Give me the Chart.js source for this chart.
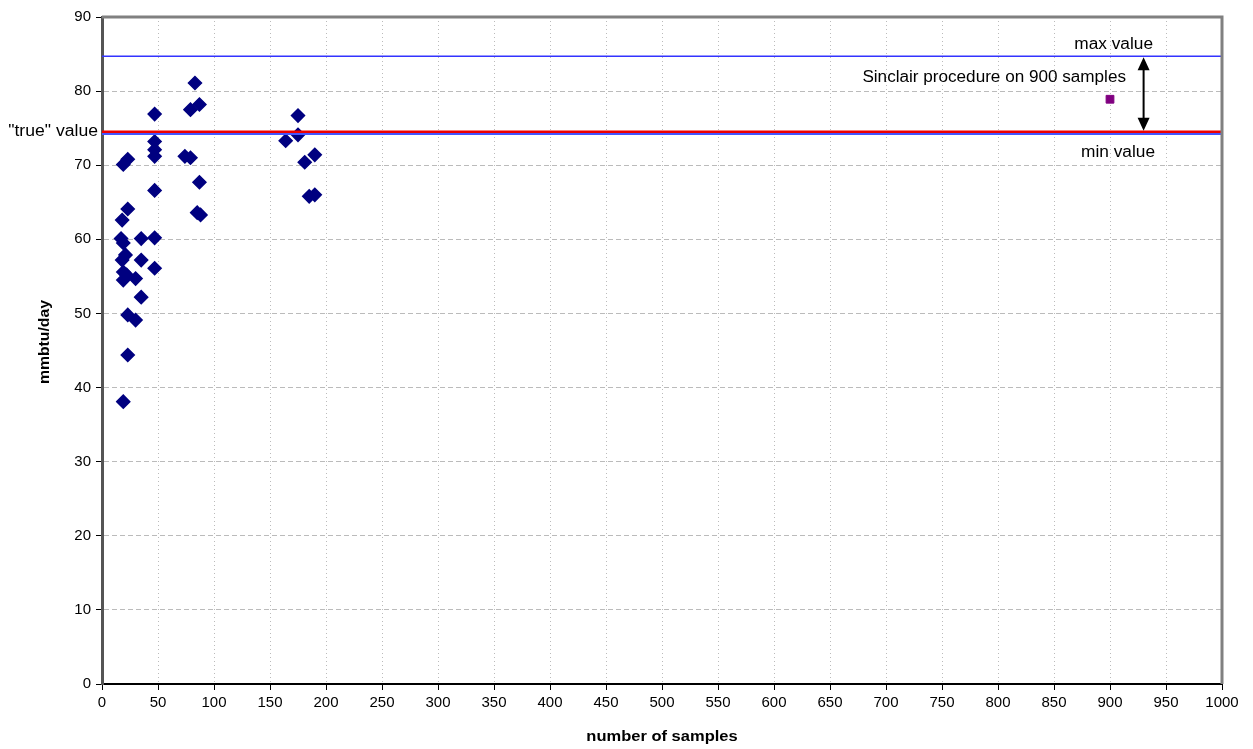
<!DOCTYPE html>
<html>
<head>
<meta charset="utf-8">
<script src="https://cdn.jsdelivr.net/npm/chart.js@4"></script>
<style>
  html, body { margin: 0; padding: 0; background: #fff; }
  #wrap { width: 1253px; height: 749px; }
</style>
</head>
<body>
<div id="wrap"><canvas id="chartScatter" width="1253" height="749"></canvas></div>
<script>
// samples vs mmbtu/day estimates
const sampleCounts = [
  87, 79, 47, 47, 47, 47, 19, 23, 74, 79, 87, 47, 23, 18, 85, 88,
  17, 19, 35, 47, 21, 18, 35, 47, 19, 22, 19, 30, 35, 23, 30, 23, 19,
  83, 175, 175, 164, 190, 181, 185, 190
];
const estimates = [
  78.2, 77.5, 76.9, 73.2, 72.1, 71.2, 70.1, 70.8, 71.2, 71.0, 67.7, 66.6, 64.1, 62.6, 63.6, 63.3,
  60.1, 59.5, 60.1, 60.2, 57.9, 57.2, 57.2, 56.1, 55.6, 55.2, 54.5, 54.7, 52.2, 49.8, 49.1, 44.4, 38.1,
  81.1, 76.7, 74.1, 73.3, 71.4, 70.4, 65.8, 66.0
];
const sinclairX = [900];
const sinclairY = [78.9];
const maxValue = 84.7;
const trueValue = 74.5;
const minValue = 74.2;
const xTicks = [0, 50, 100, 150, 200, 250, 300, 350, 400, 450, 500, 550, 600, 650, 700, 750, 800, 850, 900, 950, 1000];
const yTicks = [0, 10, 20, 30, 40, 50, 60, 70, 80, 90];

const FONT = "'Liberation Sans', Arial, sans-serif";

const hline = (v, color, width) => ({
  type: "line",
  data: [{ x: 0, y: v }, { x: 1000, y: v }],
  borderColor: color,
  borderWidth: width,
  pointRadius: 0,
  showLine: true,
  fill: false,
});

// the original text runs a little wide
function wideText(ctx, text, x, y, align, sx) {
  ctx.save();
  ctx.translate(x, y);
  ctx.scale(sx, 1);
  ctx.textAlign = align;
  ctx.fillText(text, 0, 0);
  ctx.restore();
}

const annotations = {
  id: "annotations",
  afterDraw(chart) {
    const { ctx, chartArea, scales } = chart;
    const x = scales.x, y = scales.y;
    ctx.save();
    // plot frame top / right
    ctx.strokeStyle = "#808080";
    ctx.lineWidth = 3;
    ctx.beginPath();
    ctx.moveTo(chartArea.left, chartArea.top);
    ctx.lineTo(chartArea.right, chartArea.top);
    ctx.lineTo(chartArea.right, chartArea.bottom);
    ctx.stroke();

    ctx.fillStyle = "#000";
    ctx.font = "16px " + FONT;
    ctx.textBaseline = "middle";
    wideText(ctx, '"true" value', chartArea.left - 4, y.getPixelForValue(trueValue), "right", 1.1);
    wideText(ctx, "max value", 1153, 45, "right", 1.08);
    wideText(ctx, "Sinclair procedure on 900 samples", 1126, 78, "right", 1.07);
    wideText(ctx, "min value", 1155, 153, "right", 1.08);

    // axis titles
    ctx.font = "bold 15px " + FONT;
    wideText(ctx, "number of samples", (chartArea.left + chartArea.right) / 2, 737, "center", 1.1);
    ctx.save();
    ctx.translate(45, 342);
    ctx.rotate(-Math.PI / 2);
    wideText(ctx, "mmbtu/day", 0, 0, "center", 1.05);
    ctx.restore();

    // double arrow
    const ax = x.getPixelForValue(930);
    const y1 = y.getPixelForValue(maxValue) + 1;
    const y2 = y.getPixelForValue(trueValue) - 1;
    ctx.strokeStyle = "#000";
    ctx.lineWidth = 2;
    ctx.beginPath();
    ctx.moveTo(ax, y1 + 8);
    ctx.lineTo(ax, y2 - 8);
    ctx.stroke();
    ctx.beginPath();
    ctx.moveTo(ax, y1); ctx.lineTo(ax - 6, y1 + 13); ctx.lineTo(ax + 6, y1 + 13); ctx.closePath();
    ctx.moveTo(ax, y2); ctx.lineTo(ax - 6, y2 - 13); ctx.lineTo(ax + 6, y2 - 13); ctx.closePath();
    ctx.fill();
    ctx.restore();
  },
};

const ctx = document.getElementById("chartScatter").getContext("2d");
new Chart(ctx, {
  type: "scatter",
  data: {
    datasets: [
      hline(maxValue, "#3333ff", 1.5),
      hline(minValue, "#4455ff", 2),
      hline(trueValue, "#ee0000", 2.5),
      {
        label: "estimates",
        data: sampleCounts.map((v, i) => ({ x: v, y: estimates[i] })),
        pointStyle: "rectRot",
        pointRadius: 6.5,
        backgroundColor: "#000080",
        borderColor: "#000080",
        borderWidth: 1.5,
      },
      {
        label: "Sinclair",
        data: sinclairX.map((v, i) => ({ x: v, y: sinclairY[i] })),
        pointStyle: "rect",
        pointRadius: 5.5,
        backgroundColor: "#800080",
        borderColor: "#800080",
        borderWidth: 1,
      },
    ],
  },
  options: {
    responsive: false,
    animation: false,
    layout: { padding: { top: 17, right: 31, left: 0, bottom: 0 } },
    plugins: { legend: { display: false }, tooltip: { enabled: false } },
    scales: {
      x: {
        type: "linear",
        min: 0,
        max: 1000,
        afterFit: (s) => { s.height = 65; },
        afterBuildTicks: (s) => { s.ticks = xTicks.map((v) => ({ value: v })); },
        ticks: { color: "#000", font: { family: FONT, size: 15 }, padding: 4, callback: (v) => String(v) },
        grid: { color: "#bbbbbb", tickLength: 6, tickColor: "#000", tickBorderDash: [1, 0] },
        border: { color: "#000", width: 2, dash: [1, 3] },
      },
      y: {
        min: 0,
        max: 90,
        afterFit: (s) => { s.width = 102; },
        afterBuildTicks: (s) => { s.ticks = yTicks.map((v) => ({ value: v })); },
        ticks: { color: "#000", font: { family: FONT, size: 15 }, padding: 5, callback: (v) => String(v) },
        grid: { color: "#bbbbbb", tickLength: 6, tickColor: "#000", tickBorderDash: [1, 0] },
        border: { color: "#555", width: 3, dash: [5, 3] },
      },
    },
  },
  plugins: [annotations],
});
</script>
</body>
</html>
